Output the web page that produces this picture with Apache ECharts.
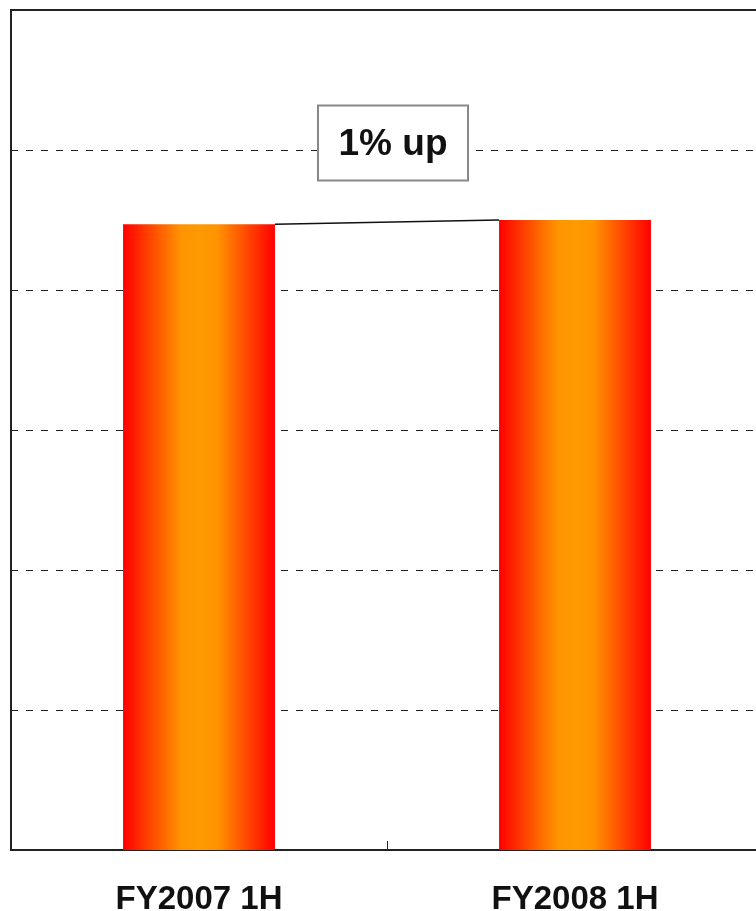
<!DOCTYPE html>
<html>
<head>
<meta charset="utf-8">
<script src="https://cdn.jsdelivr.net/npm/echarts@6/dist/echarts.min.js"></script>
<style>
  html, body { margin: 0; padding: 0; background: #fff; overflow: hidden; }
  #wrap { width: 756px; height: 911px; overflow: hidden; }
  /* the plot's right edge runs a little past the visible page */
  #chart { width: 772px; height: 911px; }
</style>
</head>
<body>
<div id="wrap"><div id="chart"></div></div>
<script>
// Half-year results, two periods
const categories = ['FY2007 1H', 'FY2008 1H'];
const values = [44.7, 45.0];
const changeLabel = '1% up';
const axisMin = 0;
const axisMax = 60;
const axisStep = 10;

const FONT = '"Liberation Sans", Arial, Helvetica, sans-serif';
const BAR_FRACTION = 0.404;

const barGradient = new echarts.graphic.LinearGradient(0, 0, 1, 0, [
  { offset: 0, color: '#ff0000' },
  { offset: 0.38, color: '#ff9400' },
  { offset: 0.5, color: '#ff9a00' },
  { offset: 0.62, color: '#ff9400' },
  { offset: 1, color: '#ff0000' }
]);

const chart = echarts.init(document.getElementById('chart'), null, { renderer: 'canvas' });

chart.setOption({
  animation: false,
  backgroundColor: '#ffffff',
  grid: {
    left: 11, top: 10, right: 9, bottom: 61,
    containLabel: false,
    outerBoundsMode: 'none',
    show: true, borderColor: '#222', borderWidth: 2, backgroundColor: 'transparent'
  },
  xAxis: {
    type: 'category',
    data: categories,
    axisLine: { lineStyle: { color: '#222', width: 2 } },
    axisTick: { show: true, inside: true, length: 9, lineStyle: { color: '#222', width: 1 } },
    axisLabel: {
      margin: 33,
      fontFamily: FONT, fontSize: 33, fontWeight: 'bold', color: '#111'
    },
    splitLine: { show: false }
  },
  yAxis: {
    type: 'value',
    min: axisMin, max: axisMax, interval: axisStep,
    axisLine: { show: true, lineStyle: { color: '#222', width: 2 } },
    axisTick: { show: false },
    axisLabel: { show: false },
    splitLine: { show: true, lineStyle: { color: '#222', width: 1, type: [7, 8] } }
  },
  series: [
    {
      type: 'bar',
      data: values,
      barWidth: (BAR_FRACTION * 100) + '%',
      itemStyle: { color: barGradient },
      z: 3
    },
    {
      // connector from the top-right corner of the first bar to the top-left of the second
      type: 'custom',
      data: [[0, values[0], 1, values[1]]],
      encode: { x: [0, 2], y: [1, 3] },
      z: 4,
      renderItem: function (params, api) {
        const p0 = api.coord([api.value(0), api.value(1)]);
        const p1 = api.coord([api.value(2), api.value(3)]);
        const half = api.size([1, 0])[0] * BAR_FRACTION / 2;
        return {
          type: 'line',
          shape: { x1: p0[0] + half, y1: p0[1], x2: p1[0] - half, y2: p1[1] },
          style: { stroke: '#111', lineWidth: 1.5 }
        };
      }
    }
  ],
  graphic: [
    {
      type: 'rect',
      shape: { x: 318, y: 105.5, width: 150, height: 75 },
      style: { fill: '#ffffff', stroke: '#888', lineWidth: 2 },
      z: 10
    },
    {
      type: 'text',
      x: 393, y: 145,
      style: {
        text: changeLabel,
        font: 'bold 37px ' + FONT,
        fill: '#111',
        textAlign: 'center',
        textVerticalAlign: 'middle'
      },
      z: 11
    }
  ]
});
</script>
</body>
</html>
